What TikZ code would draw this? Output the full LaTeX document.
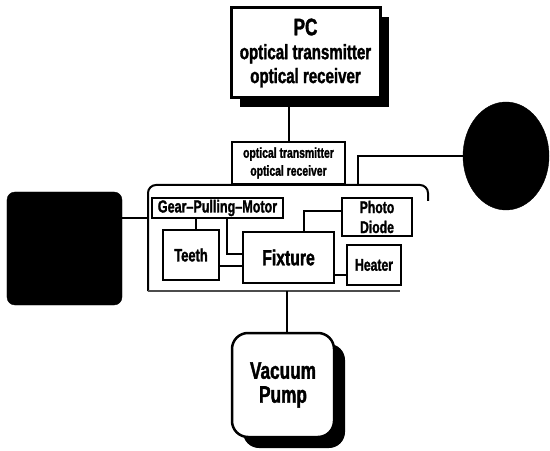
\documentclass[tikz,border=0pt]{standalone}
\usepackage{fontspec}
\setmainfont{Liberation Sans}[FakeStretch=0.72, BoldFeatures={FakeBold=1.5}]
\usetikzlibrary{shapes.geometric,shadows}

\tikzset{
  unit/.style={draw, line width=2bp, fill=white, inner sep=0pt, align=center, font=\bfseries},
  blk/.style={fill=black, draw=black},
  wire/.style={line width=2bp},
  shade/.style={drop shadow={fill=black, opacity=1, shadow xshift=#1, shadow yshift=-#1}}
}

\begin{document}
\begin{tikzpicture}[x=1bp, y=-1bp]
\useasboundingbox (0,0) rectangle (550,451);

\node[unit, line width=3bp, shade=9bp, minimum width=149bp, minimum height=90bp,
  font=\bfseries\fontsize{21}{24}\selectfont] (pc) at (305.5,53)
  {{\fontsize{24}{24}\selectfont PC}\\optical transmitter\\optical receiver};
\node[unit, line width=2.5bp, minimum width=113bp, minimum height=42bp,
  font=\bfseries\fontsize{14.5}{18}\selectfont] (link) at (288.5,163)
  {optical transmitter\\optical receiver};

% housing
\draw[wire, rounded corners=8bp] (428,201) -- (428,185) -- (148,185) -- (148,291);
\draw[line width=1.2bp, black!70] (148,291) -- (400,291);
\coordinate (cL) at (148,218);
\coordinate (cR) at (358,185);
\coordinate (cB) at (287,291);

\node[unit, minimum width=131bp, minimum height=20bp, font=\bfseries\fontsize{17.5}{18}\selectfont] (gear) at (217.5,208) {Gear--Pulling--Motor};
\node[unit, minimum width=56bp, minimum height=50bp, font=\bfseries\fontsize{18}{20}\selectfont] (teeth) at (191,255) {Teeth};
\node[unit, minimum width=91bp, minimum height=51bp, font=\bfseries\fontsize{22}{24}\selectfont] (fix) at (288.5,257.5) {Fixture};
\node[unit, minimum width=70bp, minimum height=38bp, font=\bfseries\fontsize{17}{20}\selectfont] (diode) at (377,217) {Photo\\Diode};
\node[unit, minimum width=54bp, minimum height=40bp, font=\bfseries\fontsize{17}{20}\selectfont] (heat) at (374,265) {Heater};

\node[unit, line width=2.5bp, shade=11bp, rounded corners=16bp, minimum width=102bp, minimum height=104bp,
  font=\bfseries\fontsize{24}{24}\selectfont] (pump) at (283,385) {Vacuum\\Pump};

\node[blk, rounded corners=8bp, minimum width=115bp, minimum height=113bp] (unitL) at (64.5,248.5) {};
\node[blk, ellipse, minimum width=86bp, minimum height=108bp] (unitR) at (506,156) {};

\draw[wire] (pc.south -| link.north) -- (link.north);
\draw[wire] (cR) |- (unitR);
\draw[wire] (unitL.east |- cL) -- (cL);
\draw[wire] ([xshift=5bp]teeth.north) -- ([xshift=5bp]teeth.north |- gear.south);
\draw[wire] ([xshift=9bp]gear.south) |- ([yshift=3bp]fix.west);
\draw[wire] ([yshift=-11bp]teeth.east) -- ([yshift=-11bp]teeth.east -| fix.west);
\draw[wire] ([xshift=15bp]fix.north) |- ([yshift=6bp]diode.west);
\draw[wire] ([yshift=-10bp]heat.west) -- ([yshift=-10bp]heat.west -| fix.east);
\draw[wire] (cB) -- (pump.north -| cB);
\end{tikzpicture}
\end{document}
